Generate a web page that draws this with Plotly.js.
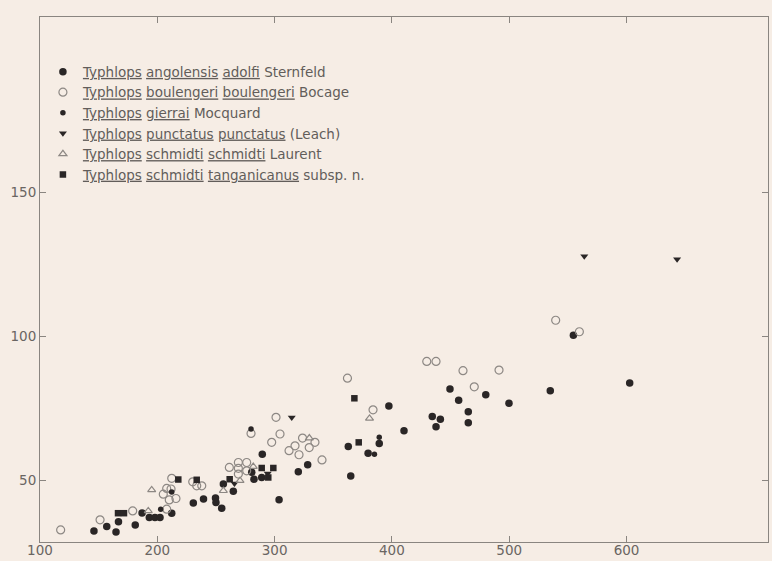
<!DOCTYPE html>
<html>
<head>
<meta charset="utf-8">
<script src="https://cdn.plot.ly/plotly-3.0.1.min.js"></script>
<style>
  html, body { margin: 0; padding: 0; background: #f6ede5; }
  #chart { width: 772px; height: 561px; }
</style>
</head>
<body>
<div id="chart"></div>
<script>
// Total length (x) against tail / body measure (y) for Typhlops taxa

// Typhlops angolensis adolfi
const adolfiX = [146.0,156.9,164.8,166.9,181.2,187.0,193.2,198.0,202.3,212.3,230.7,239.4,249.6,250.0,254.9,256.3,264.8,280.5,282.4,289.0,289.5,328.2,320.2,303.8,362.8,379.7,389.2,364.9,397.4,410.3,434.4,441.3,437.6,449.5,456.9,465.1,465.1,480.0,499.8,535.0,554.7,602.7];
const adolfiY = [32.3,33.9,32.0,35.5,34.4,38.6,37.0,37.0,37.0,38.5,42.0,43.4,43.8,42.2,40.2,48.6,46.1,52.7,50.3,50.9,59.0,55.3,52.9,43.2,61.7,59.3,62.7,51.4,75.7,67.1,72.1,71.1,68.5,81.6,77.7,73.7,69.9,79.6,76.7,81.0,100.3,83.7];

// Typhlops boulengeri boulengeri
const boulengeriX = [117.6,151.2,179.0,208.0,205.1,210.2,215.9,208.0,211.7,212.3,230.2,233.6,237.9,261.4,269.1,269.1,269.1,276.2,276.2,279.9,304.6,297.5,301.2,323.8,334.4,329.5,317.4,312.3,320.8,340.4,362.1,383.9,429.7,437.6,460.6,491.3,470.2,539.6,559.8];
const boulengeriY = [32.7,36.2,39.3,39.9,45.1,43.1,43.6,47.1,46.9,50.6,49.4,48.0,48.0,54.4,56.1,54.1,52.1,56.1,53.2,66.2,66.0,63.1,71.8,64.6,63.1,61.3,61.9,60.2,58.8,57.0,85.4,74.4,91.2,91.2,88.0,88.2,82.4,105.5,101.5];

// Typhlops gierrai
const gierraiX = [202.9,212.3,279.9,385.1,389.2];
const gierraiY = [39.9,45.9,67.7,59.0,64.9];

// Typhlops punctatus punctatus
const punctatusX = [265.8,294.1,314.6,564.0,643.1];
const punctatusY = [48.8,52.3,71.7,127.7,126.7];

// Typhlops schmidti schmidti
const schmidtiX = [192.3,195.2,256.3,270.5,281.8,329.6,380.9];
const schmidtiY = [39.3,46.6,46.3,49.8,54.7,64.6,71.4];

// Typhlops schmidti tanganicanus
const tanganicanusX = [166.5,171.6,217.9,233.6,261.7,289.0,298.9,294.6,368.0,371.7];
const tanganicanusY = [38.5,38.5,50.2,50.1,50.3,54.2,54.2,50.9,78.4,63.1];

const xTicks = [100,200,300,400,500,600];
const yTicks = [50,100,150];

const names = [
  '<u>Typhlops</u> <u>angolensis</u> <u>adolfi</u> Sternfeld',
  '<u>Typhlops</u> <u>boulengeri</u> <u>boulengeri</u> Bocage',
  '<u>Typhlops</u> <u>gierrai</u> Mocquard',
  '<u>Typhlops</u> <u>punctatus</u> <u>punctatus</u> (Leach)',
  '<u>Typhlops</u> <u>schmidti</u> <u>schmidti</u> Laurent',
  '<u>Typhlops</u> <u>schmidti</u> <u>tanganicanus</u> subsp. n.'
];

const ink = '#2a2626';
const grey = '#8d8884';

const traces = [
  {x: adolfiX, y: adolfiY, name: names[0],
   marker: {symbol: 'circle', size: 7.5, color: ink}},
  {x: boulengeriX, y: boulengeriY, name: names[1],
   marker: {symbol: 'circle-open', size: 8, color: grey, line: {width: 1.2, color: grey}}},
  {x: gierraiX, y: gierraiY, name: names[2],
   marker: {symbol: 'circle', size: 5.5, color: ink}},
  {x: punctatusX, y: punctatusY, name: names[3],
   marker: {symbol: 'triangle-down', size: 7, color: ink}},
  {x: schmidtiX, y: schmidtiY, name: names[4],
   marker: {symbol: 'triangle-up-open', size: 7, color: grey, line: {width: 1.2, color: grey}}},
  {x: tanganicanusX, y: tanganicanusY, name: names[5],
   marker: {symbol: 'square', size: 6.5, color: ink}}
].map(t => Object.assign({type: 'scatter', mode: 'markers', hoverinfo: 'x+y'}, t));

const axisCommon = {
  showgrid: false,
  zeroline: false,
  showline: true,
  linecolor: '#8a8580',
  linewidth: 1,
  mirror: 'ticks',
  ticks: 'inside',
  ticklen: 6,
  tickcolor: '#8a8580',
  tickfont: {family: 'DejaVu Sans, sans-serif', size: 13.5, color: '#6a6562'}
};

const layout = {
  width: 772,
  height: 561,
  paper_bgcolor: '#f6ede5',
  plot_bgcolor: '#f6ede5',
  margin: {l: 40, r: 4, t: 17, b: 19},
  xaxis: Object.assign({}, axisCommon, {
    range: [100, 720.6],
    tickmode: 'array',
    tickvals: xTicks,
    ticktext: xTicks.map(String),
    ticklabelstandoff: -4
  }),
  yaxis: Object.assign({}, axisCommon, {
    range: [28.5, 210.8],
    tickmode: 'array',
    tickvals: yTicks,
    ticktext: yTicks.map(String)
  }),
  showlegend: true,
  legend: {
    x: 0.004,
    y: 0.925,
    xanchor: 'left',
    yanchor: 'top',
    bgcolor: 'rgba(0,0,0,0)',
    font: {family: 'DejaVu Sans, sans-serif', size: 13.5, color: '#625d5a'}
  }
};

Plotly.newPlot('chart', traces, layout, {displayModeBar: false, staticPlot: true});
</script>
</body>
</html>
